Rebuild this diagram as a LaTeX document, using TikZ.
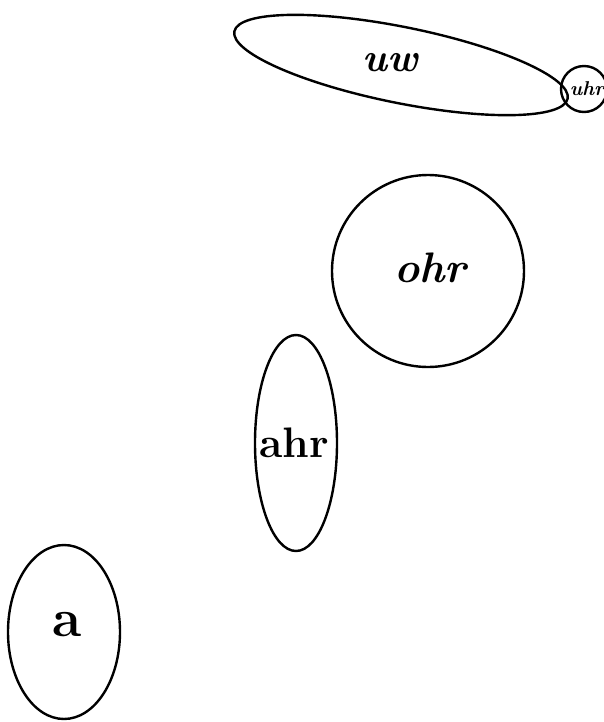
\documentclass[tikz,border=0pt]{standalone}
\usepackage{fontspec}
\begin{document}
\begin{tikzpicture}[x=0.75pt,y=0.75pt,yscale=-1,xscale=1]
        \useasboundingbox (0,0) rectangle (604,722);
        \tikzset{blob/.style={line width=1.8pt}}
        \draw [blob, rotate around={11.4:(401,65)}] (401,65) ellipse (170 and 38) ;
        \draw [blob]  (584,89) circle (23) ;
        \draw [blob]  (428,271) ellipse (96 and 96) ;
        \draw [blob]  (296,443) ellipse (41 and 108) ;
        \draw [blob]  (64,632) ellipse (56 and 87) ;
        \draw (390,63) node [inner sep=0.75pt] (uw)   {\fontsize{30}{34}\selectfont\bfseries\itshape uw};
        \draw (587,89) node [inner sep=0.75pt] (uhr)  {\fontsize{15}{17}\selectfont\bfseries\itshape uhr};
        \draw (430,268) node [inner sep=0.75pt] (ohr) {\fontsize{32}{36}\selectfont\bfseries\itshape ohr};
        \draw (294,443) node [inner sep=0.75pt] (ahr) {\fontsize{32}{36}\selectfont\bfseries ahr};
        \draw (67,625) node [inner sep=0.75pt] (a)    {\fontsize{40}{44}\selectfont\bfseries a};
    \end{tikzpicture}
\end{document}
